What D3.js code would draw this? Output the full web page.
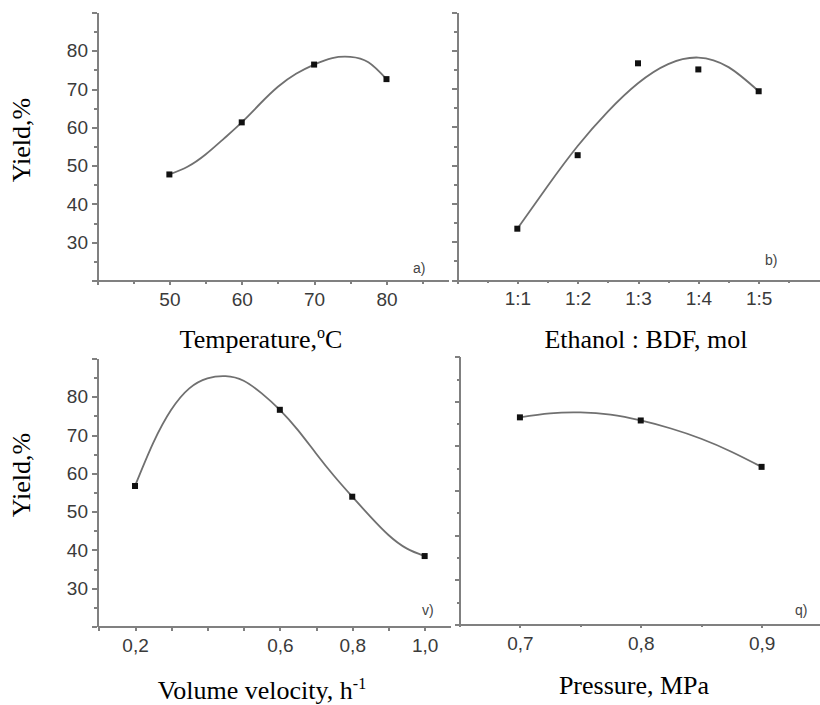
<!DOCTYPE html>
<html>
<head>
<meta charset="utf-8">
<title>Yield vs process conditions</title>
<script src="https://d3js.org/d3.v7.min.js"></script>
<style>
  body { margin: 0; background: #fff; }
  .axis path, .axis line { stroke: #808080; stroke-width: 2; shape-rendering: crispEdges; }
  .axis text { font-family: "Liberation Sans", Arial, sans-serif; font-size: 19px; fill: #3a3a3a; }
  .fit { fill: none; stroke: #707070; stroke-width: 1.8; }
  .title { font-family: "Liberation Serif", "Times New Roman", "DejaVu Serif", serif; font-size: 26px; fill: #000; }
  .tag { font-family: "Liberation Sans", Arial, sans-serif; font-size: 14px; fill: #444; }
</style>
</head>
<body>
<div id="chart"></div>
<script>

// a) temperature, C
var tempX = [50, 60, 70, 80],
    tempYield = [47.7, 61.3, 76.4, 72.6],
    tempFitX = [50, 52.5, 55, 57.5, 60, 62.5, 65, 67.5, 70, 72.5, 75, 77.5, 80],
    tempFitYield = [47.7, 49.7, 52.9, 57.0, 61.3, 66.1, 70.6, 74.0, 76.4, 78.1, 78.4, 77.0, 72.6];

// b) ethanol : BDF molar ratio (categories placed at 1..5)
var ratioLabels = ["1:1", "1:2", "1:3", "1:4", "1:5"],
    ratioYield = [33.4, 52.6, 76.6, 75.0, 69.3],
    ratioFitX = [1, 1.5, 2, 2.5, 3, 3.5, 4, 4.5, 5],
    ratioFitYield = [33.4, 44.5, 55.0, 64.0, 71.4, 76.4, 78.1, 75.6, 69.3];

// v) volume velocity, 1/h
var velX = [0.2, 0.6, 0.8, 1.0],
    velYield = [56.7, 76.6, 53.9, 38.4],
    velFitX = [0.2, 0.25, 0.3, 0.35, 0.4, 0.45, 0.5, 0.55, 0.6, 0.65, 0.7, 0.75, 0.8, 0.85, 0.9, 0.95, 1.0],
    velFitYield = [56.7, 67.9, 76.6, 82.2, 84.8, 85.4, 84.2, 80.9, 76.6, 71.3, 65.2, 59.3, 53.9, 48.7, 43.9, 40.4, 38.4];

// q) pressure, MPa
var presX = [0.7, 0.8, 0.9],
    presYield = [76.4, 75.7, 65.3],
    presFitX = [0.7, 0.725, 0.75, 0.775, 0.8, 0.825, 0.85, 0.875, 0.9],
    presFitYield = [76.4, 77.3, 77.5, 77.0, 75.7, 73.9, 71.6, 68.7, 65.3];

// tick values
var yLabels = [30, 40, 50, 60, 70, 80];
var comma = function(d) { return d3.format(".1f")(d).replace(".", ","); };

var svg = d3.select("#chart").append("svg")
    .attr("width", 820)
    .attr("height", 705);

var panels = [
  { xs: tempX, ys: tempYield, fx: tempFitX, fy: tempFitYield,
    xDomain: [40, 88.5], xRange: [97, 448], yDomain: [20, 90], yRange: [280.5, 12.5],
    xMajor: [40, 50, 60, 70, 80], xMinor: [45, 55, 65, 75, 85],
    xFormat: function(d) { return d === 40 ? "" : d; },
    yMajor: d3.range(20, 91, 10), yMinor: d3.range(25, 90, 10), yText: true,
    tag: "a)", tagPos: [413, 273] },
  { xs: [1, 2, 3, 4, 5], ys: ratioYield, fx: ratioFitX, fy: ratioFitYield,
    xDomain: [0, 6], xRange: [457, 819], yDomain: [20, 90], yRange: [280, 12],
    xMajor: [0, 1, 2, 3, 4, 5], xMinor: [0.5, 1.5, 2.5, 3.5, 4.5, 5.5],
    xFormat: function(d) { return d === 0 ? "" : ratioLabels[d - 1]; },
    yMajor: d3.range(20, 91, 10), yMinor: d3.range(25, 90, 10), yText: false,
    tag: "b)", tagPos: [765, 265] },
  { xs: velX, ys: velYield, fx: velFitX, fy: velFitYield,
    xDomain: [0.095, 1.07], xRange: [97, 450], yDomain: [20, 90], yRange: [626.5, 358.5],
    xMajor: [0.1, 0.2, 0.3, 0.4, 0.5, 0.6, 0.7, 0.8, 0.9, 1.0], xMinor: [],
    xFormat: function(d) { return [0.2, 0.6, 0.8, 1.0].indexOf(d) >= 0 ? comma(d) : ""; },
    yMajor: d3.range(20, 91, 10), yMinor: d3.range(25, 90, 10), yText: true,
    tag: "v)", tagPos: [422, 615] },
  { xs: presX, ys: presYield, fx: presFitX, fy: presFitYield,
    xDomain: [0.65, 0.95], xRange: [459.5, 822], yDomain: [30, 90], yRange: [624.3, 356.7],
    xMajor: [0.7, 0.8, 0.9], xMinor: [0.65, 0.75, 0.85, 0.95],
    xFormat: comma,
    yMajor: d3.range(30, 91, 10), yMinor: d3.range(35, 90, 10), yText: false,
    tag: "q)", tagPos: [795, 615] }
];

panels.forEach(function(p) {
  var x = d3.scaleLinear().domain(p.xDomain).range(p.xRange),
      y = d3.scaleLinear().domain(p.yDomain).range(p.yRange);
  var g = svg.append("g");

  // y axis, major + minor
  g.append("g").attr("class", "axis")
      .attr("transform", "translate(" + p.xRange[0] + ",0)")
      .call(d3.axisLeft(y).tickValues(p.yMajor).tickSize(5).tickSizeOuter(0).tickPadding(4)
        .tickFormat(function(d) { return p.yText && yLabels.indexOf(d) >= 0 ? d : ""; }));
  g.append("g").attr("class", "axis")
      .attr("transform", "translate(" + p.xRange[0] + ",0)")
      .call(d3.axisLeft(y).tickValues(p.yMinor).tickSize(3).tickFormat(""))
      .select(".domain").remove();

  // x axis, major + minor
  g.append("g").attr("class", "axis")
      .attr("transform", "translate(0," + p.yRange[0] + ")")
      .call(d3.axisBottom(x).tickValues(p.xMajor).tickSize(4).tickSizeOuter(0).tickPadding(8)
        .tickFormat(p.xFormat));
  g.append("g").attr("class", "axis")
      .attr("transform", "translate(0," + p.yRange[0] + ")")
      .call(d3.axisBottom(x).tickValues(p.xMinor).tickSize(3).tickFormat(""))
      .select(".domain").remove();

  // fitted curve
  var line = d3.line()
      .x(function(d, i) { return x(p.fx[i]); })
      .y(function(d) { return y(d); })
      .curve(d3.curveNatural);
  g.append("path").attr("class", "fit").attr("d", line(p.fy));

  // measured points
  g.selectAll("rect.pt").data(p.ys).enter().append("rect")
      .attr("class", "pt")
      .attr("x", function(d, i) { return x(p.xs[i]) - 3; })
      .attr("y", function(d) { return y(d) - 3; })
      .attr("width", 6).attr("height", 6)
      .attr("fill", "#111");

  g.append("text").attr("class", "tag")
      .attr("x", p.tagPos[0]).attr("y", p.tagPos[1]).text(p.tag);
});

// axis titles
[140, 475].forEach(function(cy) {
  svg.append("text").attr("class", "title")
      .attr("transform", "translate(30," + cy + ") rotate(-90)")
      .attr("text-anchor", "middle")
      .text("Yield,%");
});

var t1 = svg.append("text").attr("class", "title").attr("x", 261).attr("y", 348).attr("text-anchor", "middle");
t1.append("tspan").text("Temperature,");
t1.append("tspan").attr("font-size", "16px").attr("dy", -10).text("o");
t1.append("tspan").attr("dy", 10).text("C");

svg.append("text").attr("class", "title").attr("x", 646).attr("y", 348)
    .attr("text-anchor", "middle").text("Ethanol : BDF, mol");

var t3 = svg.append("text").attr("class", "title").attr("x", 262).attr("y", 699).attr("text-anchor", "middle");
t3.append("tspan").text("Volume velocity, h");
t3.append("tspan").attr("font-size", "16px").attr("dy", -10).text("-1");

svg.append("text").attr("class", "title").attr("x", 634).attr("y", 694)
    .attr("text-anchor", "middle").text("Pressure, MPa");

</script>
</body>
</html>
